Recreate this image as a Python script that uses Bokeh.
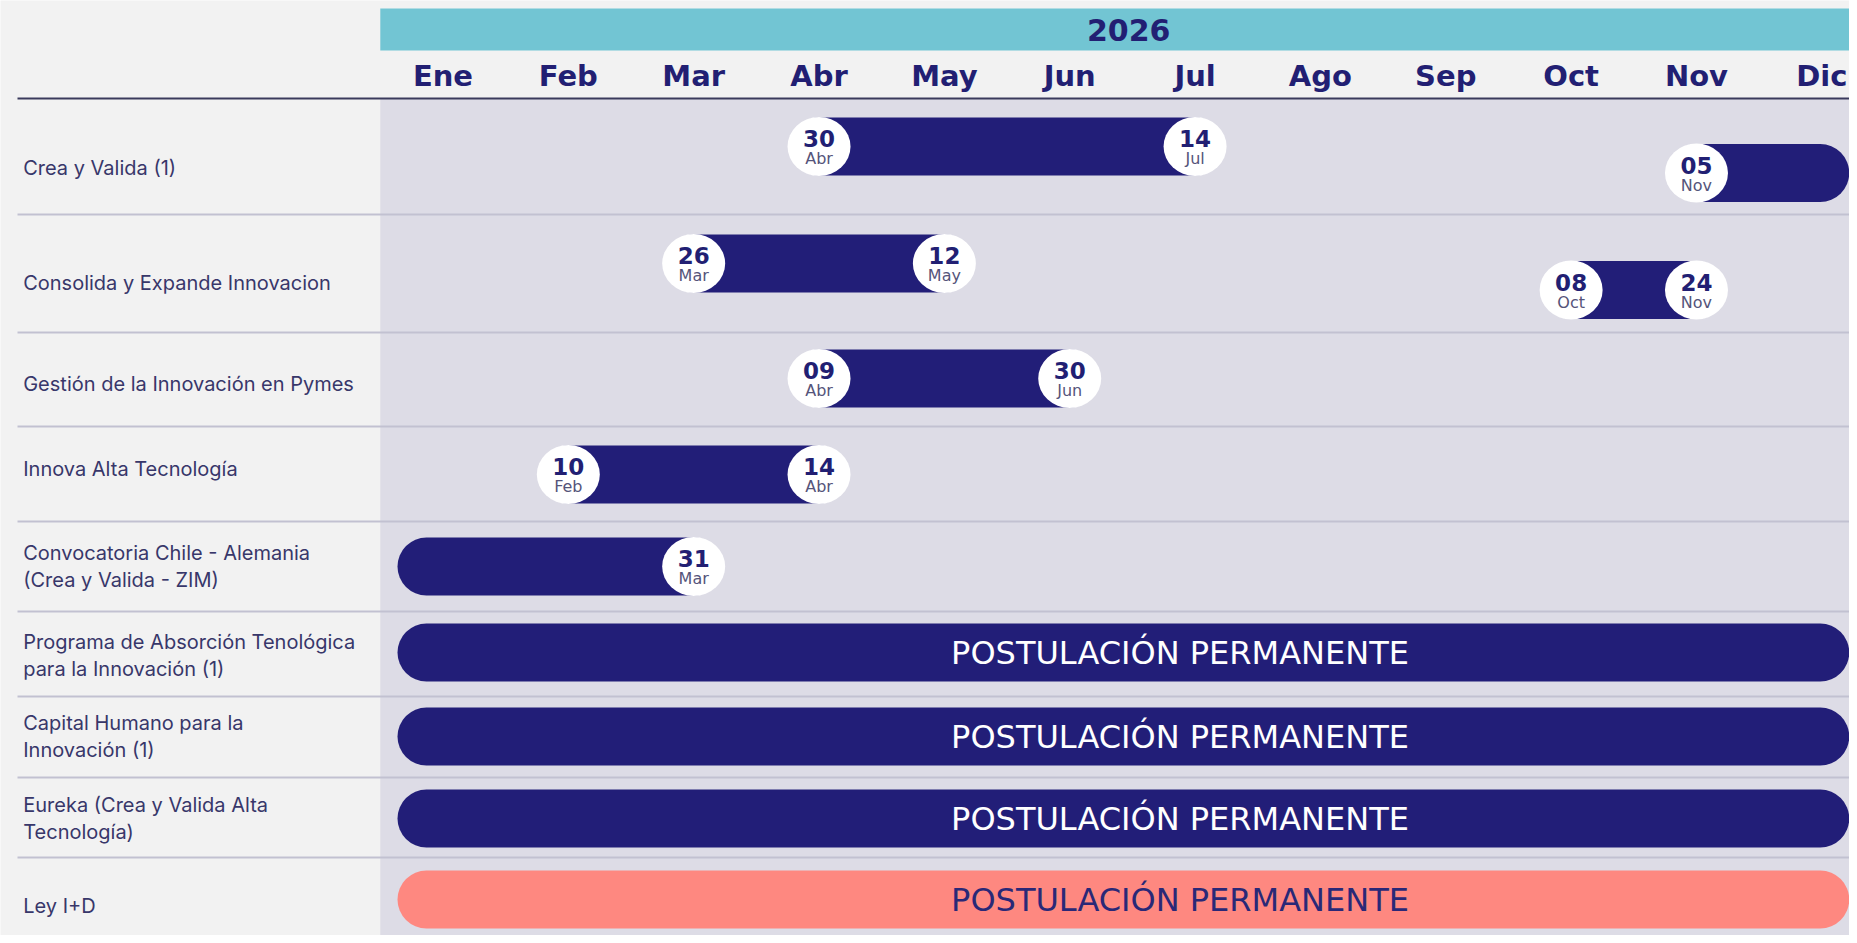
from bokeh.plotting import figure
from bokeh.models import Range1d, ColumnDataSource
from bokeh.core.properties import value
from bokeh.embed import file_html
from bokeh.resources import INLINE

# ---------------- data ----------------
YEAR = "2026"
MONTHS = ["Ene", "Feb", "Mar", "Abr", "May", "Jun", "Jul", "Ago", "Sep", "Oct", "Nov", "Dic"]
PROGRAMS = [
    "Crea y Valida (1)",
    "Consolida y Expande Innovacion",
    "Gestión de la Innovación en Pymes",
    "Innova Alta Tecnología",
    "Convocatoria Chile - Alemania\n(Crea y Valida - ZIM)",
    "Programa de Absorción Tenológica\npara la Innovación (1)",
    "Capital Humano para la\nInnovación (1)",
    "Eureka (Crea y Valida Alta\nTecnología)",
    "Ley I+D",
]
# application windows (None = open before / after the visible period)
BAR_PROGRAM = [0, 0, 1, 1, 2, 3, 4, 5, 6, 7, 8]
BAR_LANE = [0, 1, 0, 1, 0, 0, 0, 0, 0, 0, 0]
START_DAY = ["30", "05", "26", "08", "09", "10", None, None, None, None, None]
START_MONTH = [3, 10, 2, 9, 3, 1, None, None, None, None, None]
END_DAY = ["14", None, "12", "24", "30", "14", "31", None, None, None, None]
END_MONTH = [6, None, 4, 10, 5, 3, 2, None, None, None, None]
PERMANENT = [False, False, False, False, False, False, False, True, True, True, True]
BAR_KIND = ["navy"] * 10 + ["salmon"]
PERMANENT_TEXT = "POSTULACIÓN PERMANENTE"

# ---------------- layout / style ----------------
W, H = 1849, 935
PAGE_L, PAGE_T = 0, 0
X0_PX = 379.8          # x of 1 Jan
MONTH_PX = 125.35      # width of one month
ROW_BOUNDS = [98, 214, 332, 426, 521, 611, 696, 777, 857]
BAR_Y = [146, 263, 378, 474, 566, 652, 736, 818, 899]
LANE_STEP = 26.5
LABEL_Y = [167, 282, 383, 468, 566, 655, 736, 818, 905]
BAR_H = 58
CIRCLE_W, CIRCLE_H = 63, 59
OPEN_LEFT_PX = 397
PERM_TEXT_PX = 1179.5
LABEL_X_PX = 22.7
LINE_X_PX = 17

BG = "#f2f2f2"
PANEL = "#dddce6"
TEAL = "#72c5d3"
NAVY = "#221e78"
SALMON = "#fe8880"
TEXT_NAVY = "#221f73"
LABEL_COL = "#38376a"
SEP = "#c2c1d1"
COLORS = {"navy": NAVY, "salmon": SALMON}
TEXT_ON = {"navy": "#ffffff", "salmon": "#2a2877"}


def px_to_month(px):
    return (px - X0_PX) / MONTH_PX


x_start = px_to_month(PAGE_L)
x_end = px_to_month(PAGE_L + W)

p = figure(width=W, height=H, output_backend="svg", toolbar_location=None,
           x_range=Range1d(x_start, x_end), y_range=Range1d(PAGE_T + H, PAGE_T),
           min_border=0, tools="")
p.extra_x_ranges = {"px": Range1d(PAGE_L, PAGE_L + W)}
p.axis.visible = False
p.grid.visible = False
p.outline_line_color = None
p.background_fill_color = BG
p.border_fill_color = BG

# panels
p.quad(left=[0], right=[x_end], top=[ROW_BOUNDS[0]], bottom=[PAGE_T + H],
       fill_color=PANEL, line_color=None)
p.quad(left=[0], right=[x_end], top=[8], bottom=[50], fill_color=TEAL, line_color=None)

# lines
p.segment(x0=[LINE_X_PX], x1=[PAGE_L + W], y0=[ROW_BOUNDS[0]], y1=[ROW_BOUNDS[0]],
          x_range_name="px", line_color="#3a3a5c", line_width=2)
seps = ROW_BOUNDS[1:]
p.segment(x0=[LINE_X_PX] * len(seps), x1=[PAGE_L + W] * len(seps), y0=seps, y1=seps,
          x_range_name="px", line_color=SEP, line_width=2)

# header
p.text(x=[5.97], y=[29], text=[YEAR], text_font=value("DejaVu Sans"), text_font_style="bold",
       text_font_size="30px", text_color=TEXT_NAVY, text_align="center", text_baseline="middle")
p.text(x=[m + 0.5 for m in range(12)], y=[75] * 12, text=MONTHS,
       text_font=value("DejaVu Sans"), text_font_style="bold", text_font_size="29px",
       text_color=TEXT_NAVY, text_align="center", text_baseline="middle")

# row labels
p.text(x=[LABEL_X_PX] * len(PROGRAMS), y=LABEL_Y, text=PROGRAMS, x_range_name="px",
       text_font=value("Inter"), text_font_size="20px", text_color=LABEL_COL,
       text_align="left", text_baseline="middle", text_line_height=1.15)

# bars
r_m = (BAR_H / 2) / MONTH_PX
open_left = px_to_month(OPEN_LEFT_PX) + r_m
open_right = x_end - r_m - 0.002
seg = dict(x0=[], x1=[], y=[], color=[])
circ = dict(x=[], y=[], day=[], mon=[])
perm = dict(x=[], y=[], color=[], text=[])
for i in range(len(BAR_PROGRAM)):
    y = BAR_Y[BAR_PROGRAM[i]] + BAR_LANE[i] * LANE_STEP
    x0 = START_MONTH[i] + 0.5 if START_MONTH[i] is not None else open_left
    x1 = END_MONTH[i] + 0.5 if END_MONTH[i] is not None else open_right
    seg["x0"].append(x0); seg["x1"].append(x1); seg["y"].append(y)
    seg["color"].append(COLORS[BAR_KIND[i]])
    if START_MONTH[i] is not None:
        circ["x"].append(x0); circ["y"].append(y)
        circ["day"].append(START_DAY[i]); circ["mon"].append(MONTHS[START_MONTH[i]])
    if END_MONTH[i] is not None:
        circ["x"].append(x1); circ["y"].append(y)
        circ["day"].append(END_DAY[i]); circ["mon"].append(MONTHS[END_MONTH[i]])
    if PERMANENT[i]:
        perm["x"].append(px_to_month(PERM_TEXT_PX)); perm["y"].append(y)
        perm["color"].append(TEXT_ON[BAR_KIND[i]]); perm["text"].append(PERMANENT_TEXT)

sseg = ColumnDataSource(seg)
p.segment(x0="x0", x1="x1", y0="y", y1="y", source=sseg, line_color="color",
          line_width=BAR_H, line_cap="round")

scirc = ColumnDataSource(circ)
p.ellipse(x="x", y="y", width=CIRCLE_W, height=CIRCLE_H, width_units="screen",
          height_units="screen", source=scirc, fill_color="#ffffff", line_color=None)
p.text(x="x", y="y", text="day", source=scirc, y_offset=-8, text_font=value("DejaVu Sans"),
       text_font_style="bold", text_font_size="23px", text_color=TEXT_NAVY,
       text_align="center", text_baseline="middle")
p.text(x="x", y="y", text="mon", source=scirc, y_offset=12, text_font=value("DejaVu Sans"),
       text_font_size="16px", text_color="#55547a",
       text_align="center", text_baseline="middle")

sperm = ColumnDataSource(perm)
p.text(x="x", y="y", text="text", source=sperm, text_font=value("DejaVu Sans"),
       text_font_size="32px", text_color="color", text_align="center", text_baseline="middle")

open("out.html", "w").write(file_html(p, INLINE))
